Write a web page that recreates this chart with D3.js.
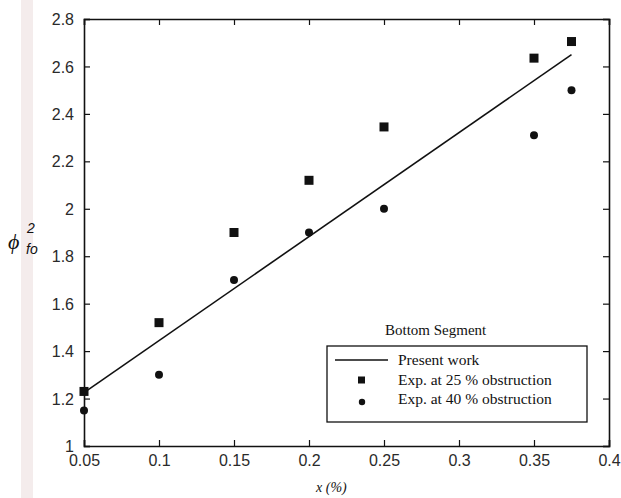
<!DOCTYPE html>
<html>
<head>
<meta charset="utf-8">
<script src="https://cdn.jsdelivr.net/npm/d3@7"></script>
<style>
  body { margin: 0; background: #fff; }
  svg { display: block; }
</style>
</head>
<body>
<svg id="chart" width="621" height="498"></svg>
<script>
// data
var xTicks = [0.05, 0.1, 0.15, 0.2, 0.25, 0.3, 0.35, 0.4];
var yTicks = [1, 1.2, 1.4, 1.6, 1.8, 2, 2.2, 2.4, 2.6, 2.8];

var xObs = [0.05, 0.1, 0.15, 0.2, 0.25, 0.35, 0.375];
var exp25 = [1.23, 1.52, 1.90, 2.12, 2.345, 2.635, 2.705];
var exp40 = [1.15, 1.30, 1.70, 1.90, 2.00, 2.31, 2.50];

var lineX = [0.05, 0.375];
var lineY = [1.225, 2.65];

var legendItems = ["Present work", "Exp. at 25 % obstruction", "Exp. at 40 % obstruction"];

var svg = d3.select("svg#chart");

var margin = { top: 19, right: 12, bottom: 52, left: 84 };
var plotWidth = 621 - margin.left - margin.right;
var plotHeight = 498 - margin.top - margin.bottom;

// faint strip from the scanned page
svg.append("rect")
    .attr("x", 21).attr("y", 0)
    .attr("width", 12).attr("height", 498)
    .attr("fill", "#f4ecec");

var xScale = d3.scaleLinear().domain([0.05, 0.4]).range([0, plotWidth]);
var yScale = d3.scaleLinear().domain([1, 2.8]).range([plotHeight, 0]);

var plot = svg.append("g")
    .attr("transform", "translate(" + margin.left + "," + margin.top + ")");

var sans = "Liberation Sans, Arial, sans-serif";
var serif = "Liberation Serif, Times New Roman, serif";

// axes, ticks pointing inward on all four sides
var xAxis = d3.axisBottom(xScale).tickValues(xTicks).tickSize(-6).tickPadding(9)
    .tickFormat(function(d) { return d3.format("")(+d.toFixed(2)); });
var yAxis = d3.axisLeft(yScale).tickValues(yTicks).tickSize(-6).tickPadding(10)
    .tickFormat(function(d) { return d3.format("")(+d.toFixed(1)); });

var xGroup = plot.append("g").attr("transform", "translate(0," + plotHeight + ")").call(xAxis);
var yGroup = plot.append("g").call(yAxis);
plot.append("g").call(d3.axisTop(xScale).tickValues(xTicks).tickSize(-6).tickFormat(""));
plot.append("g").attr("transform", "translate(" + plotWidth + ",0)")
    .call(d3.axisRight(yScale).tickValues(yTicks).tickSize(-6).tickFormat(""));

plot.selectAll(".domain").attr("stroke", "#111").attr("stroke-width", 1.6);
plot.selectAll(".tick line").attr("stroke", "#111").attr("stroke-width", 1.2);
plot.selectAll(".tick text")
    .style("font-family", sans).style("font-size", "16px").attr("fill", "#2a2a2a");
yGroup.selectAll(".tick text").attr("dy", "0.35em");

// present work line
var lineFunction = d3.line()
    .x(function(d) { return xScale(d.x); })
    .y(function(d) { return yScale(d.y); });

plot.append("path")
    .attr("d", lineFunction(lineX.map(function(x, i) { return { x: x, y: lineY[i] }; })))
    .attr("stroke", "#111")
    .attr("stroke-width", 1.6)
    .attr("fill", "none");

// 25 % squares
plot.selectAll("rect.sq")
    .data(xObs.map(function(x, i) { return { x: x, y: exp25[i] }; }))
    .enter().append("rect")
    .attr("class", "sq")
    .attr("x", function(d) { return xScale(d.x) - 4.5; })
    .attr("y", function(d) { return yScale(d.y) - 4.5; })
    .attr("width", 9).attr("height", 9)
    .attr("fill", "#111");

// 40 % dots
plot.selectAll("circle.dot")
    .data(xObs.map(function(x, i) { return { x: x, y: exp40[i] }; }))
    .enter().append("circle")
    .attr("class", "dot")
    .attr("cx", function(d) { return xScale(d.x); })
    .attr("cy", function(d) { return yScale(d.y); })
    .attr("r", 4)
    .attr("fill", "#111");

// legend
var lg = svg.append("g").attr("transform", "translate(327,346)");
svg.append("text")
    .attr("x", 385).attr("y", 335)
    .style("font-family", serif).style("font-size", "15px").attr("fill", "#111")
    .text("Bottom Segment");
lg.append("rect")
    .attr("width", 260).attr("height", 76)
    .attr("fill", "#fff").attr("stroke", "#111").attr("stroke-width", 1.3);

var rowY = [14, 34, 53];
lg.selectAll("text.item")
    .data(legendItems)
    .enter().append("text")
    .attr("class", "item")
    .attr("x", 71)
    .attr("y", function(d, i) { return rowY[i] + 5; })
    .style("font-family", serif).style("font-size", "15.5px").attr("fill", "#111")
    .text(function(d) { return d; });
lg.append("line")
    .attr("x1", 8).attr("x2", 61).attr("y1", rowY[0]).attr("y2", rowY[0])
    .attr("stroke", "#111").attr("stroke-width", 1.6);
lg.append("rect")
    .attr("x", 31).attr("y", rowY[1] - 3.5).attr("width", 7).attr("height", 7).attr("fill", "#111");
lg.append("circle")
    .attr("cx", 35).attr("cy", rowY[2] + 3).attr("r", 3.2).attr("fill", "#111");

// axis titles
var yl = svg.append("text")
    .attr("x", 8).attr("y", 249)
    .style("font-family", serif).style("font-style", "italic").attr("fill", "#111");
yl.append("tspan").style("font-size", "22px").text("\u03D5");
yl.append("tspan").attr("x", 27).attr("y", 233).style("font-family", sans).style("font-size", "14px").text("2");
yl.append("tspan").attr("x", 26).attr("y", 254).style("font-family", sans).style("font-size", "14px").text("fo");

svg.append("text")
    .attr("x", 316).attr("y", 492)
    .style("font-family", serif).style("font-style", "italic").style("font-size", "14px")
    .attr("fill", "#111")
    .text("x (%)");
</script>
</body>
</html>
